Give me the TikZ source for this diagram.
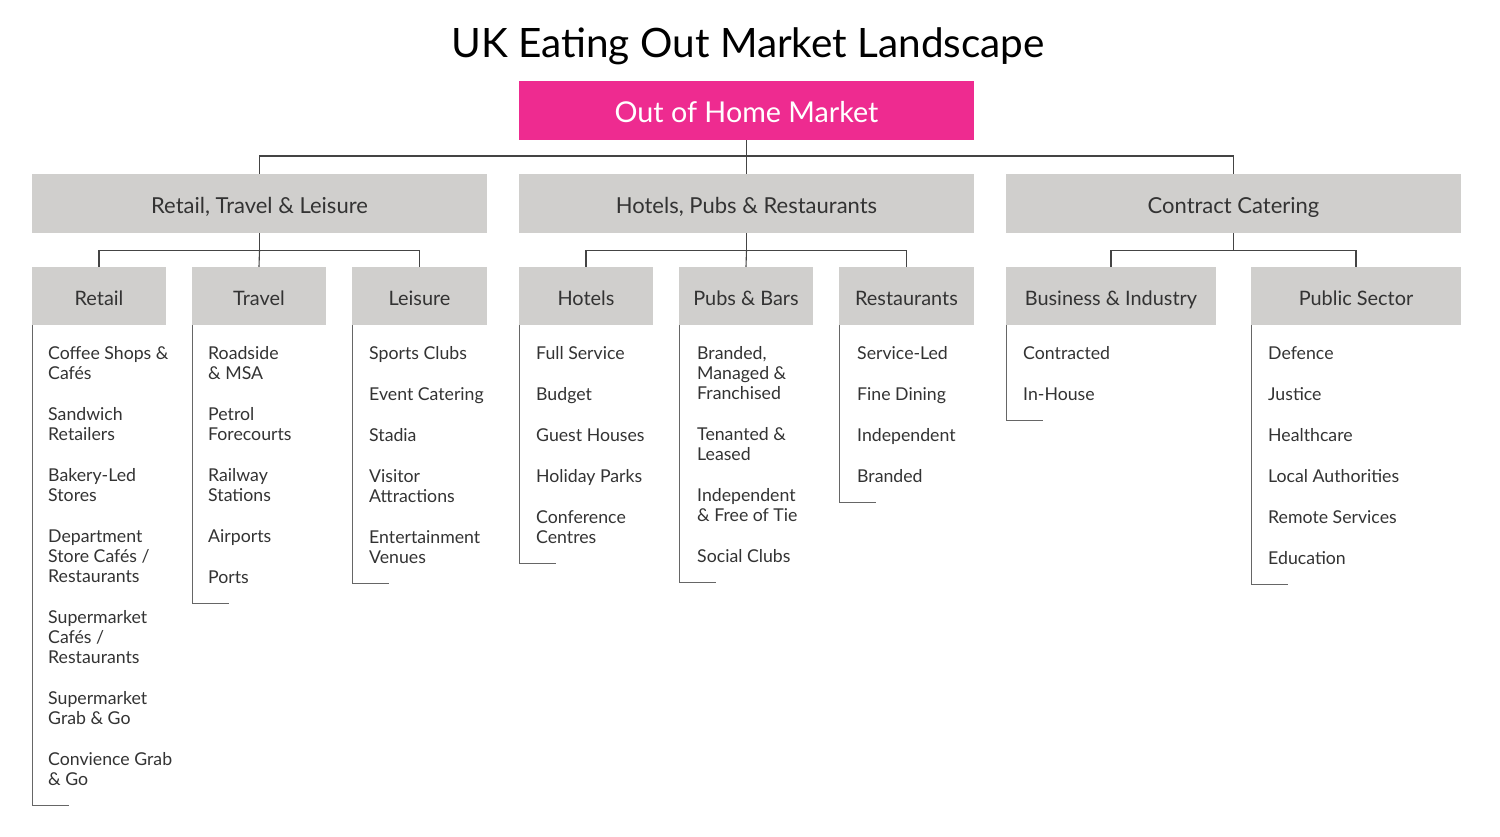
\documentclass[tikz,border=0pt]{standalone}
\usepackage{fontspec}
\setmainfont{Lato}
\usetikzlibrary{calc}
\definecolor{pinkc}{HTML}{EE2B90}
\definecolor{boxgray}{HTML}{D0CFCD}
\definecolor{txtgray}{HTML}{333333}
\definecolor{linegray}{HTML}{444444}
\definecolor{brgray}{HTML}{666666}
\newcommand{\itemfont}{\fontsize{17.7}{20}\selectfont}
\tikzset{
  topbox/.style={fill=pinkc, text=white, inner sep=0pt, minimum width=455pt, minimum height=59pt, text height=23.5pt, text depth=0pt, font=\fontsize{28.7}{32}\selectfont},
  secbox/.style={fill=boxgray, text=txtgray, inner sep=0pt, minimum width=455pt, minimum height=59pt, text height=20pt, text depth=0pt, font=\fontsize{22}{25}\selectfont},
  subbox/.style={fill=boxgray, text=txtgray, inner sep=0pt, minimum height=58pt, text height=19pt, text depth=0pt, font=\fontsize{19.9}{23}\selectfont},
  listtext/.style={text=txtgray, inner sep=0pt, anchor=base west, font=\itemfont},
  conn/.style={draw=linegray, line width=1.1pt},
  bracket/.style={draw=brgray, line width=1.1pt},
}
\newcommand{\gap}{\\[21pt]}
\begin{document}
\begin{tikzpicture}[x=1pt,y=-1pt]
\useasboundingbox (0,0) rectangle (1500,836);
\fill[white] (0,0) rectangle (1500,836);
\node[anchor=base, font=\fontsize{40.5}{44}\selectfont, text=black] (title) at (748,57) {UK Eating Out Market Landscape};
\node[topbox] (oohm) at (746.5,110.5) {Out of Home Market};
% level 2
\node[secbox] (rtl) at (259.5,203.5) {Retail, Travel \& Leisure};
\node[secbox] (hpr) at (746.5,203.5) {Hotels, Pubs \& Restaurants};
\node[secbox] (cc) at (1233.5,203.5) {Contract Catering};
% level 3
\node[subbox, minimum width=134pt] (retail) at (99,296) {Retail};
\node[subbox, minimum width=134pt] (travel) at (259,296) {Travel};
\node[subbox, minimum width=135pt] (leisure) at (419.5,296) {Leisure};
\node[subbox, minimum width=134pt] (hotels) at (586,296) {Hotels};
\node[subbox, minimum width=134pt] (pubs) at (746,296) {Pubs \& Bars};
\node[subbox, minimum width=135pt] (rest) at (906.5,296) {Restaurants};
\node[subbox, minimum width=210pt] (bi) at (1111,296) {Business \& Industry};
\node[subbox, minimum width=210pt] (ps) at (1356,296) {Public Sector};
% connectors level 1-2
\coordinate (b1) at (746.5,156);
\draw[conn] (oohm.south) -- (b1);
\draw[conn] (rtl.north) |- (b1) -| (cc.north);
\draw[conn] (b1) -- (hpr.north);
% connectors level 2-3
\coordinate (b2) at ($(rtl.south)+(0,17)$);
\draw[conn] (rtl.south) -- (b2);
\draw[conn] (retail.north) |- (b2) -| (leisure.north);
\draw[conn] (b2) -- (travel.north);
\coordinate (b3) at ($(hpr.south)+(0,17)$);
\draw[conn] (hpr.south) -- (b3);
\draw[conn] (hotels.north) |- (b3) -| (rest.north);
\draw[conn] (b3) -- (pubs.north);
\coordinate (b4) at ($(cc.south)+(0,17)$);
\draw[conn] (cc.south) -- (b4);
\draw[conn] (bi.north) |- (b4) -| (ps.north);
% lists
\node[listtext] (Lretail) at (48,359.3) {\begin{tabular}[t]{@{}l@{}}Coffee Shops \&\\ Cafés\gap Sandwich\\ Retailers\gap Bakery-Led\\ Stores\gap Department\\ Store Cafés /\\ Restaurants\gap Supermarket\\ Cafés /\\ Restaurants\gap Supermarket\\ Grab \& Go\gap Convience Grab\\ \& Go\end{tabular}};
\node[listtext] (Ltravel) at (208,359.3) {\begin{tabular}[t]{@{}l@{}}Roadside\\ \& MSA\gap Petrol\\ Forecourts\gap Railway\\ Stations\gap Airports\gap Ports\end{tabular}};
\node[listtext] (Lleisure) at (369,359.3) {\begin{tabular}[t]{@{}l@{}}Sports Clubs\gap Event Catering\gap Stadia\gap Visitor\\ Attractions\gap Entertainment\\ Venues\end{tabular}};
\node[listtext] (Lhotels) at (536,359.3) {\begin{tabular}[t]{@{}l@{}}Full Service\gap Budget\gap Guest Houses\gap Holiday Parks\gap Conference\\ Centres\end{tabular}};
\node[listtext] (Lpubs) at (697,359.3) {\begin{tabular}[t]{@{}l@{}}Branded,\\ Managed \&\\ Franchised\gap Tenanted \&\\ Leased\gap Independent\\ \& Free of Tie\gap Social Clubs\end{tabular}};
\node[listtext] (Lrest) at (857,359.3) {\begin{tabular}[t]{@{}l@{}}Service-Led\gap Fine Dining\gap Independent\gap Branded\end{tabular}};
\node[listtext] (Lbi) at (1023,359.3) {\begin{tabular}[t]{@{}l@{}}Contracted\gap In-House\end{tabular}};
\node[listtext] (Lps) at (1268,359.3) {\begin{tabular}[t]{@{}l@{}}Defence\gap Justice\gap Healthcare\gap Local Authorities\gap Remote Services\gap Education\end{tabular}};
% brackets
\foreach \b/\l in {retail/Lretail, travel/Ltravel, leisure/Lleisure, hotels/Lhotels, pubs/Lpubs, rest/Lrest, bi/Lbi, ps/Lps}{
  \coordinate (e\l) at ([yshift=-14pt]\l.south west);
  \draw[bracket] ([xshift=1pt]\b.south west) |- ([xshift=37pt]\b.south west |- e\l);
}
\end{tikzpicture}
\end{document}
